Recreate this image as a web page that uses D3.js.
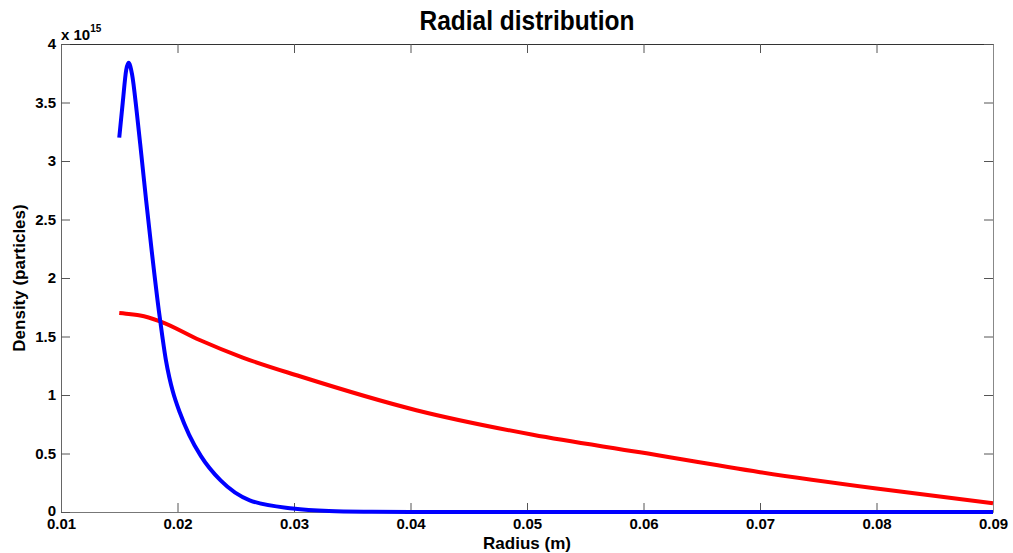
<!DOCTYPE html>
<html>
<head>
<meta charset="utf-8">
<script src="https://cdn.jsdelivr.net/npm/d3@7"></script>
<style>
  body { margin: 0; background: #fff; }
  text { font-family: "Liberation Sans", Arial, sans-serif; font-weight: bold; fill: #000; }
</style>
</head>
<body>
<div id="chart"></div>
<script>
// Data (density in units of 1e15)
var blueRadius = [0.0150, 0.0153, 0.0156, 0.0158, 0.0161, 0.0165, 0.0169, 0.0173, 0.0178, 0.0184,
                  0.0187, 0.0190, 0.0193, 0.0196, 0.0202, 0.0210, 0.0220, 0.0237, 0.0262, 0.0299,
                  0.0330, 0.0360, 0.0400, 0.0900];
var blueDensity = [3.20, 3.50, 3.78, 3.84, 3.74, 3.42, 3.05, 2.67, 2.22, 1.72,
                   1.50, 1.30, 1.15, 1.03, 0.85, 0.66, 0.48, 0.27, 0.10, 0.03,
                   0.008, 0.002, 0, 0];

var redRadius = [0.0150, 0.0160, 0.0168, 0.0185, 0.0219, 0.0256, 0.0305, 0.0405, 0.0505, 0.0597, 0.0700, 0.0800, 0.0900];
var redDensity = [1.70, 1.69, 1.68, 1.63, 1.47, 1.32, 1.16, 0.87, 0.66, 0.51, 0.34, 0.20, 0.074];

var xTicks = [0.01, 0.02, 0.03, 0.04, 0.05, 0.06, 0.07, 0.08, 0.09];
var yTicks = [0, 0.5, 1, 1.5, 2, 2.5, 3, 3.5, 4];

var width = 1013,
    height = 553,
    margin = { top: 44, right: 20, bottom: 41, left: 61 };

var svg = d3.select("#chart")
    .append("svg")
    .attr("width", width)
    .attr("height", height);

var x = d3.scaleLinear()
    .domain([0.01, 0.09])
    .range([margin.left, width - margin.right]);

var y = d3.scaleLinear()
    .domain([0, 4])
    .range([height - margin.bottom, margin.top]);

var tickLen = 9;

// box-style axes with inward ticks
var bottomAxis = svg.append("g")
    .attr("transform", `translate(0,${y(0)})`)
    .call(d3.axisBottom(x).tickValues(xTicks).tickSizeInner(-tickLen).tickSizeOuter(0).tickPadding(4)
        .tickFormat(d3.format(".2f")));
bottomAxis.select(".domain").attr("stroke", "#777");
bottomAxis.selectAll("line").attr("stroke", "#555");
bottomAxis.selectAll("text").style("font-size", "15px").attr("dy", 13);

var topAxis = svg.append("g")
    .attr("transform", `translate(0,${y(4)})`)
    .call(d3.axisTop(x).tickValues(xTicks).tickSizeInner(-tickLen).tickSizeOuter(0).tickFormat(""));
topAxis.select(".domain").attr("stroke", "#333");
topAxis.selectAll("line").attr("stroke", "#555");

var leftAxis = svg.append("g")
    .attr("transform", `translate(${x(0.01)},0)`)
    .call(d3.axisLeft(y).tickValues(yTicks).tickSizeInner(-tickLen).tickSizeOuter(0).tickPadding(5)
        .tickFormat(d3.format("")));
leftAxis.select(".domain").attr("stroke", "#666");
leftAxis.selectAll("line").attr("stroke", "#555");
leftAxis.selectAll("text").style("font-size", "15px");
// the "0" sits just above the first x label, as in the original
leftAxis.selectAll("text").filter(d => d === 0).attr("dy", "0.2em");

var rightAxis = svg.append("g")
    .attr("transform", `translate(${x(0.09)},0)`)
    .call(d3.axisRight(y).tickValues(yTicks).tickSizeInner(-tickLen).tickSizeOuter(0).tickFormat(""));
rightAxis.select(".domain").attr("stroke", "#888");
rightAxis.selectAll("line").attr("stroke", "#555");

// curves
var line = d3.line()
    .x(d => x(d[0]))
    .y(d => y(d[1]))
    .curve(d3.curveMonotoneX);

svg.append("path")
    .datum(redRadius.map((r, i) => [r, redDensity[i]]))
    .attr("fill", "none")
    .attr("stroke", "#f00")
    .attr("stroke-width", 4)
    .attr("d", line);

svg.append("path")
    .datum(blueRadius.map((r, i) => [r, blueDensity[i]]))
    .attr("fill", "none")
    .attr("stroke", "#00f")
    .attr("stroke-width", 4)
    .attr("d", line);

// exponent label
var expo = svg.append("text")
    .attr("x", 61)
    .attr("y", 40)
    .style("font-size", "15px");
expo.append("tspan").text("x 10");
expo.append("tspan").attr("dy", -8).style("font-size", "10px").text("15");

// title and labels
svg.append("text")
    .attr("x", (x(0.01) + x(0.09)) / 2)
    .attr("y", 30)
    .attr("text-anchor", "middle")
    .attr("textLength", 215)
    .attr("lengthAdjust", "spacingAndGlyphs")
    .style("font-size", "27px")
    .text("Radial distribution");

svg.append("text")
    .attr("x", (x(0.01) + x(0.09)) / 2)
    .attr("y", 549)
    .attr("text-anchor", "middle")
    .style("font-size", "17px")
    .text("Radius (m)");

svg.append("text")
    .attr("transform", `translate(25,${(y(0) + y(4)) / 2}) rotate(-90)`)
    .attr("text-anchor", "middle")
    .style("font-size", "17px")
    .text("Density (particles)");
</script>
</body>
</html>
